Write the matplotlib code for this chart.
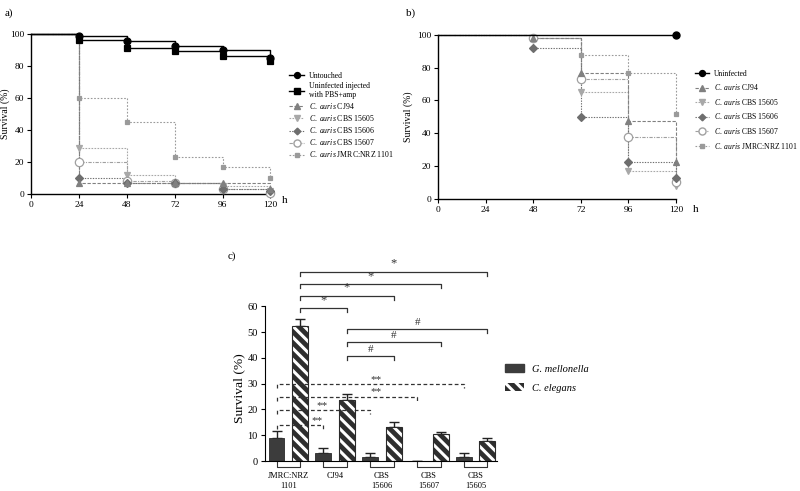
import matplotlib
matplotlib.use("Agg")
import matplotlib.pyplot as plt
from matplotlib.lines import Line2D
from matplotlib.patches import Patch
import numpy as np

plt.rcParams['font.family'] = ['Liberation Serif', 'DejaVu Serif']
plt.rcParams['mathtext.fontset'] = 'custom'
plt.rcParams['mathtext.rm'] = 'Liberation Serif'
plt.rcParams['mathtext.it'] = 'Liberation Serif:italic'
plt.rcParams['hatch.linewidth'] = 2.2

# ---------------- data ----------------
times = [0, 24, 48, 72, 96, 120]

# panel a
a_untouched = [100, 98.5, 95.5, 92.5, 90, 85]
a_pbs = [100, 96, 91, 89, 86, 83]
a_cj94 = [100, 6.7, 6.7, 6.7, 6.7, 3.3]
a_15605 = [100, 28.5, 11.7, 6.7, 5, 1.7]
a_15606 = [100, 10, 7, 7, 3.3, 1.7]
a_15607 = [100, 20, 8.3, 6.7, 3.3, 0.5]
a_jmrc = [100, 60, 45, 23.3, 16.7, 10]

# panel b
b_uninf = [100, 100, 100, 100, 100, 100]
b_cj94 = [100, 100, 98, 77, 47.5, 22.5]
b_15605 = [100, 100, 98, 65, 16.7, 8]
b_15606 = [100, 100, 92, 50, 22.5, 12.5]
b_15607 = [100, 100, 98, 73, 37.5, 10]
b_jmrc = [100, 100, 98, 88, 77, 52]

# panel c
strains = ["JMRC:NRZ\n1101", "CJ94", "CBS\n15606", "CBS\n15607", "CBS\n15605"]
gm_vals = [9, 3.3, 1.7, 0, 1.7]
gm_err = [2.5, 1.8, 1.6, 0, 1.6]
ce_vals = [52.5, 23.5, 13, 10.5, 7.7]
ce_err = [2.7, 2.6, 2.3, 0.7, 1.1]

# ---------------- styles ----------------
styles = {
    'untouched': dict(color='black', ls='-', marker='o', ms=5, mfc='black', mec='black', lw=1.0),
    'pbs': dict(color='black', ls='-', marker='s', ms=5, mfc='black', mec='black', lw=1.0),
    'cj94': dict(color='#808080', ls=(0, (3, 1.5)), marker='^', ms=4.5, mfc='#808080', mec='#808080', lw=0.8),
    '15605': dict(color='#a8a8a8', ls=(0, (1.5, 1.2)), marker='v', ms=4.5, mfc='#a8a8a8', mec='#a8a8a8', lw=0.8),
    '15606': dict(color='#6e6e6e', ls=(0, (1.2, 1.2)), marker='D', ms=4, mfc='#6e6e6e', mec='#6e6e6e', lw=0.8),
    '15607': dict(color='#a0a0a0', ls=(0, (3, 1.2, 1, 1.2)), marker='o', ms=6, mfc='white', mec='#a0a0a0', lw=0.8),
    'jmrc': dict(color='#9a9a9a', ls=(0, (1.5, 1.5)), marker='s', ms=3.5, mfc='#9a9a9a', mec='#9a9a9a', lw=0.8),
}

def km(ax, y, st, start_idx):
    ax.step(times, y, where='post', color=st['color'], ls=st['ls'], lw=st['lw'], clip_on=False, zorder=2)
    ax.plot(times[start_idx:], y[start_idx:], ls='none', marker=st['marker'], ms=st['ms'],
            mfc=st['mfc'], mec=st['mec'], mew=0.9, clip_on=False, zorder=3)

def handle(st):
    return Line2D([0], [0], color=st['color'], ls=st['ls'], lw=st['lw'], marker=st['marker'],
                  ms=st['ms'] * 0.85, mfc=st['mfc'], mec=st['mec'])

fig = plt.figure(figsize=(8, 4.91), dpi=100)

def style_km(ax, lx):
    ax.set_xlim(0, 120)
    ax.set_ylim(0, 100)
    ax.set_xticks(times)
    ax.set_yticks([0, 20, 40, 60, 80, 100])
    for s in ['top', 'right']:
        ax.spines[s].set_visible(False)
    for s in ['left', 'bottom']:
        ax.spines[s].set_linewidth(1.0)
    ax.tick_params(labelsize=6.8, length=3, width=0.8, pad=2)
    ax.set_ylabel('Survival (%)', fontsize=7)
    ax.yaxis.set_label_coords(lx, 0.5)

ital = r'$\it{C.\ auris}$'

# ---------------- panel a ----------------
axa = fig.add_axes([0.039, 0.605, 0.299, 0.326])
style_km(axa, -0.088)
km(axa, a_jmrc, styles['jmrc'], 1)
km(axa, a_15605, styles['15605'], 1)
km(axa, a_15607, styles['15607'], 1)
km(axa, a_15606, styles['15606'], 1)
km(axa, a_cj94, styles['cj94'], 1)
km(axa, a_pbs, styles['pbs'], 1)
km(axa, a_untouched, styles['untouched'], 1)
fig.text(0.352, 0.586, 'h', fontsize=8)
fig.text(0.006, 0.968, 'a)', fontsize=8)
la = [handle(styles[k]) for k in ['untouched', 'pbs', 'cj94', '15605', '15606', '15607', 'jmrc']]
labs_a = ['Untouched', 'Uninfected injected\nwith PBS+amp', ital + ' CJ94', ital + ' CBS 15605',
          ital + ' CBS 15606', ital + ' CBS 15607', ital + ' JMRC:NRZ 1101']
fig.legend(la, labs_a, loc='upper left', bbox_to_anchor=(0.361, 0.854), frameon=False, fontsize=5.6,
           handlelength=2.0, handletextpad=0.6, labelspacing=0.27, borderaxespad=0, borderpad=0)

# ---------------- panel b ----------------
axb = fig.add_axes([0.5475, 0.595, 0.2975, 0.334])
style_km(axb, -0.105)
km(axb, b_jmrc, styles['jmrc'], 2)
km(axb, b_15605, styles['15605'], 2)
km(axb, b_15607, styles['15607'], 2)
km(axb, b_15606, styles['15606'], 2)
km(axb, b_cj94, styles['cj94'], 2)
axb.step(times, b_uninf, where='post', color='black', lw=1.0, clip_on=False, zorder=4)
axb.plot([times[-1]], [b_uninf[-1]], 'o', color='black', ms=5, clip_on=False, zorder=5)
fig.text(0.866, 0.568, 'h', fontsize=8)
fig.text(0.508, 0.968, 'b)', fontsize=8)
lb = [handle(styles[k]) for k in ['untouched', 'cj94', '15605', '15606', '15607', 'jmrc']]
labs_b = ['Uninfected', ital + ' CJ94', ital + ' CBS 15605', ital + ' CBS 15606',
          ital + ' CBS 15607', ital + ' JMRC:NRZ 1101']
fig.legend(lb, labs_b, loc='upper left', bbox_to_anchor=(0.869, 0.858), frameon=False, fontsize=5.5,
           handlelength=1.8, handletextpad=0.6, labelspacing=0.6, borderaxespad=0, borderpad=0)

# ---------------- panel c ----------------
axc = fig.add_axes([0.331, 0.061, 0.29, 0.41])
x = np.arange(len(strains))
off = 0.25
bw = 0.34
axc.bar(x - off, gm_vals, bw, color='#3c3c3c', edgecolor='#2a2a2a', lw=0.6, zorder=2)
axc.bar(x + off, ce_vals, bw, color='#2e2e2e', edgecolor='white', hatch='\\\\\\', lw=0, zorder=2)
axc.bar(x + off, ce_vals, bw, color='none', edgecolor='#2a2a2a', lw=0.8, zorder=3)
axc.errorbar(x - off, gm_vals, yerr=[np.zeros(len(gm_vals)), gm_err], fmt='none', ecolor='#222222',
             elinewidth=1.0, capsize=3.5, capthick=1.0, zorder=1)
axc.errorbar(x + off, ce_vals, yerr=[np.zeros(len(ce_vals)), ce_err], fmt='none', ecolor='#222222',
             elinewidth=1.0, capsize=3.5, capthick=1.0, zorder=1)
axc.set_xlim(-0.5, 4.45)
axc.set_ylim(0, 78)
axc.spines['left'].set_bounds(0, 60)
for s in ['top', 'right']:
    axc.spines[s].set_visible(False)
axc.set_yticks([0, 10, 20, 30, 40, 50, 60])
axc.set_xticks(x)
axc.set_xticklabels(strains, fontsize=6, linespacing=1.3)
axc.tick_params(axis='x', length=0, pad=8)
axc.tick_params(axis='y', labelsize=7.5, length=3, width=0.8, pad=2)
axc.set_ylabel('Survival (%)', fontsize=9.7)
axc.yaxis.set_label_coords(-0.082, 0.36)

# group brackets under axis
for i in x:
    axc.plot([i - off, i - off, i + off, i + off], [0, -2.2, -2.2, 0], color='#333333', lw=0.8,
             clip_on=False)

def bracket(x0, x1, y, label, lx, ls='-', dy=1.5, ly=0.8, fs=9):
    axc.plot([x0, x0, x1, x1], [y - dy, y, y, y - dy], color='#333333', lw=0.9, ls=ls, clip_on=False)
    axc.text(lx, y + ly, label, ha='center', va='bottom', fontsize=fs, color='#333333')

# * brackets (C. elegans JMRC vs others)
star_y = [59.2, 64, 68.6, 73.3]
for j, yv in enumerate(star_y):
    x1 = x[j + 1] + off
    bracket(x[0] + off, x1, yv, '*', (x[0] + off + x1) / 2, fs=9)
# # brackets (CJ94 C. elegans vs others)
hash_y = [40.6, 46, 51]
for j, yv in enumerate(hash_y):
    x1 = x[j + 2] + off
    bracket(x[1] + off, x1, yv, '#', (x[1] + off + x1) / 2, fs=8)
# ** brackets (G. mellonella JMRC vs others)
dstar_y = [13.9, 19.7, 24.9, 29.8]
dstar_lx = [0.61, 0.73, 1.88, 1.88]
for j, yv in enumerate(dstar_y):
    x1 = x[j + 1] - off
    bracket(x[0] - off, x1, yv, '**', dstar_lx[j], ls=(0, (3, 2)), ly=0.2, fs=8)

fig.text(0.284, 0.474, 'c)', fontsize=8)
lc = [Patch(facecolor='#3c3c3c', edgecolor='#3c3c3c'),
      Patch(facecolor='#2e2e2e', edgecolor='white', hatch='\\\\\\', lw=0)]
leg = fig.legend(lc, ['G. mellonella', 'C. elegans'], loc='upper left', bbox_to_anchor=(0.631, 0.258),
                 frameon=False, fontsize=7.5, handlelength=1.8, handleheight=0.8, handletextpad=0.8,
                 labelspacing=0.9, borderaxespad=0, borderpad=0)
for t in leg.get_texts():
    t.set_fontstyle('italic')

fig.savefig('out.png', dpi=100)
